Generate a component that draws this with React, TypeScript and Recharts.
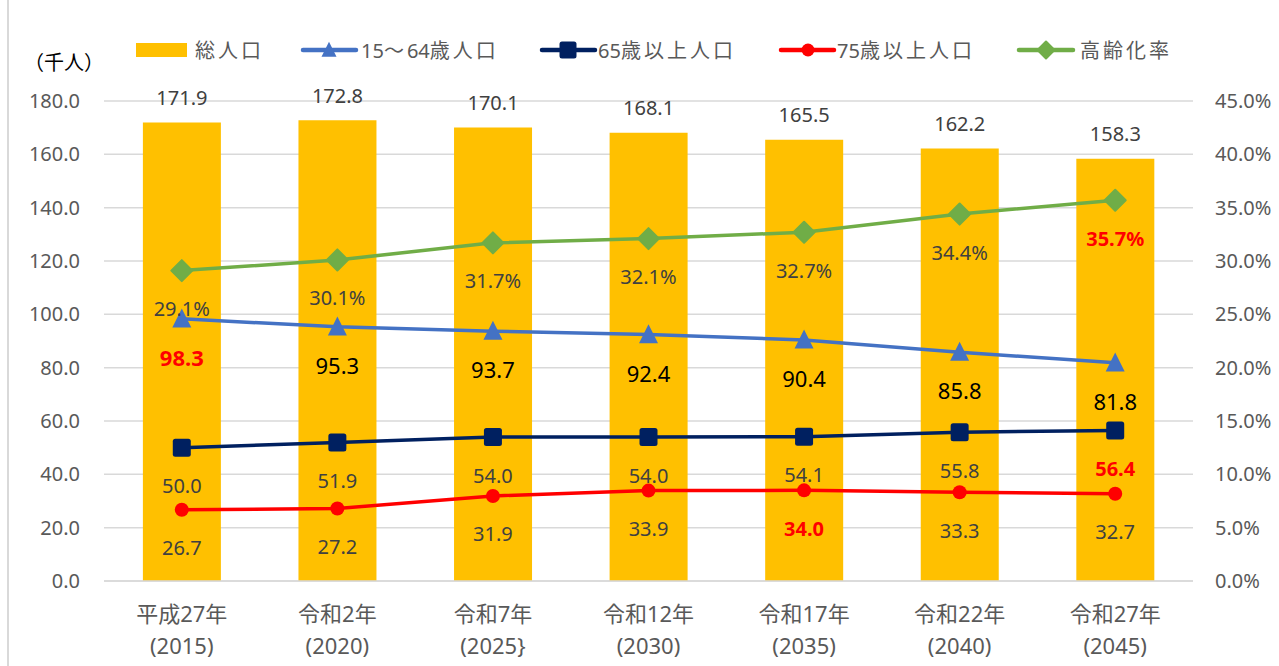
import React from 'react';
import {
  ComposedChart,
  Bar,
  Line,
  XAxis,
  YAxis,
  CartesianGrid,
  LabelList
} from 'recharts';

// Data
const eraLabels = ['平成27年', '令和2年', '令和7年', '令和12年', '令和17年', '令和22年', '令和27年'];
const yearLabels = ['(2015)', '(2020)', '(2025}', '(2030)', '(2035)', '(2040)', '(2045)'];
const totalPop = [171.9, 172.8, 170.1, 168.1, 165.5, 162.2, 158.3];
const pop15to64 = [98.3, 95.3, 93.7, 92.4, 90.4, 85.8, 81.8];
const pop65plus = [50.0, 51.9, 54.0, 54.0, 54.1, 55.8, 56.4];
const pop75plus = [26.7, 27.2, 31.9, 33.9, 34.0, 33.3, 32.7];
const agingRate = [29.1, 30.1, 31.7, 32.1, 32.7, 34.4, 35.7];

// which data labels are emphasised (red bold) in the original
const hl15to64 = [0];
const hl65plus = [6];
const hl75plus = [4];
const hlAging = [6];

const leftTicks = [0, 20, 40, 60, 80, 100, 120, 140, 160, 180];
const rightTicks = [0, 5, 10, 15, 20, 25, 30, 35, 40, 45];

const FONT = "'Noto Sans', 'Noto Sans CJK JP', sans-serif";
const GRAY = '#595959';
const C_TOTAL = '#FFC000';
const C_1564 = '#4472C4';
const C_65 = '#002060';
const C_75 = '#FF0000';
const C_AGING = '#70AD47';

const chartData = eraLabels.map((name, i) => ({
  name,
  total: totalPop[i],
  p1564: pop15to64[i],
  p65: pop65plus[i],
  p75: pop75plus[i],
  aging: agingRate[i]
}));

// Marker shapes
const Triangle = ({ cx, cy, s, color }: any) => (
  <path d={`M${cx},${cy - s * 0.55} L${cx + s / 2},${cy + s * 0.45} L${cx - s / 2},${cy + s * 0.45} Z`} fill={color} />
);
const Square = ({ cx, cy, s, color }: any) => (
  <rect x={cx - s / 2} y={cy - s / 2} width={s} height={s} rx={2.5} fill={color} />
);
const Diamond = ({ cx, cy, s, color }: any) => (
  <path d={`M${cx},${cy - s / 2} L${cx + s / 2},${cy} L${cx},${cy + s / 2} L${cx - s / 2},${cy} Z`} fill={color} strokeLinejoin="round" stroke={color} strokeWidth={2} />
);

const makeLineLabel = (color: string, size: number, highlight: number[], fmt: (v: number) => string) =>
  (props: any) => {
    const { x, y, value, index } = props;
    const hi = highlight.includes(index);
    return (
      <text
        x={x}
        y={y + 38}
        textAnchor="middle"
        dominantBaseline="central"
        fill={hi ? '#FF0000' : color}
        fontWeight={hi ? 700 : 400}
        fontSize={size}
        fontFamily={FONT}
      >
        {fmt(value)}
      </text>
    );
  };

const BarLabel = (props: any) => {
  const { x, y, width, value } = props;
  return (
    <text x={x + width / 2} y={y - 25} textAnchor="middle" dominantBaseline="central" fill="#404040" fontSize={20} fontFamily={FONT}>
      {Number(value).toFixed(1)}
    </text>
  );
};

const XTick = ({ x, y, payload, index }: any) => (
  <g>
    <text x={x} y={y + 32} textAnchor="middle" dominantBaseline="central" fill={GRAY} fontSize={22} fontFamily={FONT}>
      {payload.value}
    </text>
    <text x={x} y={y + 64} textAnchor="middle" dominantBaseline="central" fill={GRAY} fontSize={22} fontFamily={FONT}>
      {yearLabels[index]}
    </text>
  </g>
);

const Legend = () => {
  const cy = 16;
  // CJK glyphs are spaced out in the original legend, digits are not
  const txt = (x: number, label: string) => (
    <text x={x} y={cy} dominantBaseline="central" fill={GRAY} fontSize={20} fontFamily={FONT}>
      {label.split(/(\d+)/).filter(Boolean).map((part, i) => (
        <tspan key={i} letterSpacing={/\d/.test(part) ? 0 : 3}>{part}</tspan>
      ))}
    </text>
  );
  const seg = (x1: number, x2: number, color: string) => (
    <line x1={x1} x2={x2} y1={cy} y2={cy} stroke={color} strokeWidth={4.5} strokeLinecap="round" />
  );
  return (
    <svg width={1279} height={32} style={{ position: 'absolute', left: 0, top: 34 }}>
      <rect x={136} y={cy - 7} width={51} height={14} fill={C_TOTAL} />
      {txt(195, '総人口')}
      {seg(303, 356, C_1564)}
      <Triangle cx={329} cy={cy} s={15} color={C_1564} />
      {txt(361, '15〜64歳人口')}
      {seg(542, 595, C_65)}
      <Square cx={568} cy={cy} s={17} color={C_65} />
      {txt(598, '65歳以上人口')}
      {seg(781, 834, C_75)}
      <circle cx={808} cy={cy} r={6.5} fill={C_75} />
      {txt(837, '75歳以上人口')}
      {seg(1019, 1073, C_AGING)}
      <Diamond cx={1046} cy={cy} s={17} color={C_AGING} />
      {txt(1080, '高齢化率')}
    </svg>
  );
};

export default function App() {
  return (
    <div style={{ position: 'absolute', left: 0, top: 0, width: 1279, height: 666, background: '#fff', fontFamily: FONT }}>
      <div style={{ position: 'absolute', left: 7, top: 0, width: 2, height: 666, background: '#D9D9D9' }} />
      <div style={{ position: 'absolute', left: 24, top: 49, fontSize: 20, color: '#000', lineHeight: '28px' }}>（千人）</div>
      <Legend />
      <div style={{ position: 'absolute', left: 0, top: 0 }}>
        <ComposedChart
          width={1279}
          height={666}
          data={chartData}
          margin={{ top: 101, right: 0, bottom: 0, left: 0 }}
          barCategoryGap="25%"
        >
          <CartesianGrid yAxisId="left" vertical={false} stroke="#D9D9D9" strokeWidth={1.5} />
          <XAxis
            dataKey="name"
            height={85}
            axisLine={{ stroke: '#D9D9D9', strokeWidth: 1.5 }}
            tickLine={false}
            tickSize={0}
            tickMargin={0}
            interval={0}
            tick={<XTick />}
          />
          <YAxis
            yAxisId="left"
            width={104}
            domain={[0, 180]}
            ticks={leftTicks}
            axisLine={false}
            tickLine={false}
            tickSize={0}
            tickMargin={24}
            tickFormatter={(v: number) => v.toFixed(1)}
            tick={{ fill: GRAY, fontSize: 20, fontFamily: FONT }}
          />
          <YAxis
            yAxisId="right"
            orientation="right"
            width={86}
            domain={[0, 45]}
            ticks={rightTicks}
            axisLine={false}
            tickLine={false}
            tickSize={0}
            tickMargin={22}
            tickFormatter={(v: number) => v.toFixed(1) + '%'}
            tick={{ fill: GRAY, fontSize: 20, fontFamily: FONT, textAnchor: 'start' }}
          />
          <Bar yAxisId="left" dataKey="total" fill={C_TOTAL} isAnimationActive={false}>
            <LabelList dataKey="total" content={BarLabel} />
          </Bar>
          <Line
            yAxisId="left"
            dataKey="p1564"
            stroke={C_1564}
            strokeWidth={3.5}
            isAnimationActive={false}
            dot={(p: any) => <Triangle key={`t${p.index}`} cx={p.cx} cy={p.cy} s={19} color={C_1564} />}
            activeDot={false}
          >
            <LabelList dataKey="p1564" content={makeLineLabel('#000', 22, hl15to64, (v) => v.toFixed(1))} />
          </Line>
          <Line
            yAxisId="left"
            dataKey="p65"
            stroke={C_65}
            strokeWidth={3.5}
            isAnimationActive={false}
            dot={(p: any) => <Square key={`s${p.index}`} cx={p.cx} cy={p.cy} s={18} color={C_65} />}
            activeDot={false}
          >
            <LabelList dataKey="p65" content={makeLineLabel('#404040', 20, hl65plus, (v) => v.toFixed(1))} />
          </Line>
          <Line
            yAxisId="left"
            dataKey="p75"
            stroke={C_75}
            strokeWidth={3.5}
            isAnimationActive={false}
            dot={(p: any) => <circle key={`c${p.index}`} cx={p.cx} cy={p.cy} r={7} fill={C_75} />}
            activeDot={false}
          >
            <LabelList dataKey="p75" content={makeLineLabel('#404040', 20, hl75plus, (v) => v.toFixed(1))} />
          </Line>
          <Line
            yAxisId="right"
            dataKey="aging"
            stroke={C_AGING}
            strokeWidth={3.5}
            isAnimationActive={false}
            dot={(p: any) => <Diamond key={`d${p.index}`} cx={p.cx} cy={p.cy} s={21} color={C_AGING} />}
            activeDot={false}
          >
            <LabelList dataKey="aging" content={makeLineLabel('#404040', 20, hlAging, (v) => v.toFixed(1) + '%')} />
          </Line>
        </ComposedChart>
      </div>
    </div>
  );
}
